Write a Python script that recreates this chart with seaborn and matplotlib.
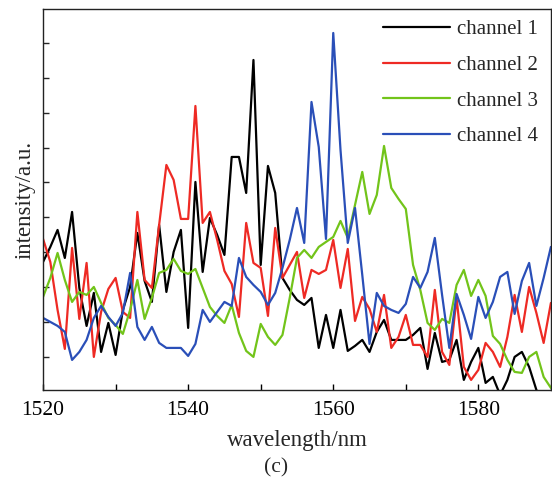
import numpy as np
import pandas as pd
import matplotlib
matplotlib.use("Agg")
import matplotlib.pyplot as plt
import seaborn as sns
from matplotlib.ticker import FixedLocator

wavelength = list(range(1520, 1591))

channel_1 = [13.8, 15.3, 17.0, 14.2, 18.8, 11.2, 7.4, 10.7, 4.8, 7.7,
             4.5, 9.0, 11.3, 16.7, 11.9, 9.8, 17.5, 10.8, 14.8, 17.0,
             7.2, 21.8, 12.8, 18.2, 16.5, 14.5, 24.3, 24.3, 20.7, 34.0,
             13.5, 23.4, 20.7, 12.2, 11.0, 10.0, 9.5, 10.2, 5.2, 8.5,
             5.2, 9.0, 4.9, 5.4, 6.0, 4.8, 6.8, 8.0, 6.0, 6.0,
             6.0, 6.5, 7.2, 3.1, 6.7, 3.8, 4.0, 6.0, 2.0, 3.8,
             5.2, 1.7, 2.3, 0.5, 2.0, 4.3, 4.8, 3.3, 1.0, -0.2,
             -0.8]
channel_2 = [16.1, 13.8, 9.0, 5.1, 15.2, 8.1, 13.7, 4.3, 8.8, 11.1,
             12.2, 8.8, 8.2, 18.8, 12.0, 11.2, 17.5, 23.5, 22.0, 18.1,
             18.1, 29.4, 17.7, 18.8, 16.0, 12.9, 11.6, 8.3, 17.7, 13.7,
             13.2, 8.4, 17.2, 12.2, 13.5, 14.8, 10.2, 13.0, 12.6, 13.0,
             16.0, 11.2, 15.1, 7.9, 10.3, 9.1, 6.8, 10.5, 5.2, 6.3,
             8.5, 5.5, 5.5, 4.3, 11.0, 4.8, 3.5, 10.2, 3.3, 2.0,
             3.0, 5.7, 4.8, 3.3, 6.3, 10.5, 6.8, 11.3, 8.7, 5.7,
             9.7]
channel_3 = [10.3, 12.2, 14.7, 12.0, 9.8, 10.8, 10.5, 11.3, 9.7, 8.2,
             7.5, 6.6, 9.0, 12.0, 8.1, 10.2, 12.7, 13.0, 14.1, 12.9,
             12.6, 13.1, 11.2, 9.3, 8.4, 7.7, 9.5, 6.7, 4.9, 4.3,
             7.6, 6.3, 5.5, 6.5, 10.2, 14.2, 15.0, 14.2, 15.3, 15.8,
             16.3, 17.9, 16.2, 19.5, 22.8, 18.6, 20.5, 25.4, 21.2, 20.1,
             19.1, 13.5, 11.0, 7.7, 7.0, 8.1, 7.7, 11.5, 13.0, 10.4,
             12.0, 10.4, 6.4, 5.6, 4.0, 2.8, 2.7, 4.3, 4.8, 2.3,
             1.2]
channel_4 = [8.2, 7.8, 7.4, 6.8, 4.0, 4.8, 6.0, 8.2, 9.4, 8.3,
             7.4, 8.7, 12.7, 7.3, 6.0, 7.3, 5.7, 5.2, 5.2, 5.2,
             4.4, 5.6, 9.0, 7.8, 8.8, 9.8, 9.4, 14.2, 12.3, 11.5,
             10.8, 9.5, 10.7, 13.2, 16.0, 19.2, 15.7, 29.8, 25.3, 16.1,
             36.7, 25.0, 15.7, 19.2, 12.5, 5.6, 10.7, 9.4, 9.0, 8.7,
             9.6, 12.3, 11.2, 12.8, 16.2, 10.5, 5.2, 10.6, 8.5, 6.1,
             10.3, 8.2, 9.8, 12.3, 12.8, 8.6, 11.9, 13.7, 9.4, 12.2,
             15.3]

labels = ["channel 1", "channel 2", "channel 3", "channel 4"]
colors = ["#000000", "#ee2a24", "#72c41a", "#2a4fb8"]
x_tick_labels = ["1520", "1540", "1560", "1580"]

series = [channel_1, channel_2, channel_3, channel_4]
df = pd.concat([
    pd.DataFrame({"wavelength": wavelength, "intensity": s, "channel": lab})
    for s, lab in zip(series, labels)
], ignore_index=True)

sns.set_theme(style="white")
plt.rcParams["font.family"] = ["Liberation Serif", "DejaVu Serif"]

fig = plt.figure(figsize=(5.52, 4.88), dpi=100)
ax = fig.add_axes([0.078, 0.201, 0.92, 0.7806])

sns.lineplot(data=df, x="wavelength", y="intensity", hue="channel",
             palette=dict(zip(labels, colors)), linewidth=1.6, ax=ax,
             estimator=None, sort=False)

ax.set_xlim(1520, 1590)
ax.set_ylim(1.0, 39.1)
ax.set_xticks([1520, 1540, 1560, 1580])
ax.set_xticklabels(x_tick_labels)
ax.xaxis.set_minor_locator(FixedLocator([1530, 1550, 1570, 1590]))
ax.set_yticks([4.3 + 3.49 * i for i in range(10)])
ax.set_yticklabels([])
ax.tick_params(axis="x", which="both", direction="in", length=4, width=1,
               bottom=True, top=False, labelsize=15.5, pad=8, colors="black")
ax.tick_params(axis="y", which="both", direction="in", length=4, width=1,
               left=True, right=False)
for sp in ax.spines.values():
    sp.set_color("#222222")
    sp.set_linewidth(1.0)

ax.set_xlabel("wavelength/nm", fontsize=16.5, labelpad=7)
ax.set_ylabel("intensity/a.u.", fontsize=16.5, labelpad=2)

leg = ax.legend(loc="upper right", frameon=False, fontsize=15,
                handlelength=3.2, handletextpad=0.35, labelspacing=0.78,
                borderaxespad=0.1, bbox_to_anchor=(0.995, 1.0))
for line in leg.get_lines():
    line.set_linewidth(1.6)

fig.text(0.5, 0.042, "(c)", ha="center", va="center", fontsize=15.5)

fig.savefig("out.png", dpi=100)
